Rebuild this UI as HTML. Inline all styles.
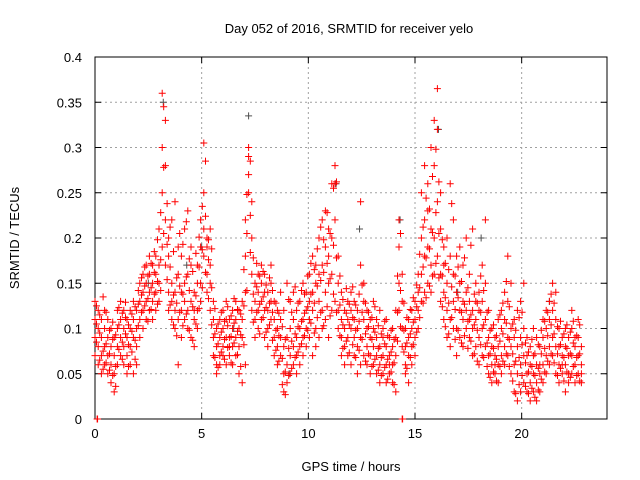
<!DOCTYPE html>
<html><head><meta charset="utf-8"><style>
body{margin:0;background:#fff}
svg{display:block;font-family:"Liberation Sans",sans-serif}
</style></head><body>
<svg id="chart" width="640" height="480">
<g id="grid"></g>
<g id="axes"></g>
<g id="marks"></g>
<text x="349" y="33" text-anchor="middle" font-size="13">Day 052 of 2016, SRMTID for receiver yelo</text>
<text x="351" y="471" text-anchor="middle" font-size="13">GPS time / hours</text>
<text transform="translate(19,238) rotate(-90)" text-anchor="middle" font-size="13">SRMTID / TECUs</text>
</svg>
<script>
const xTicks=[0,5,10,15,20];
const yTicks=[0,0.05,0.1,0.15,0.2,0.25,0.3,0.35,0.4];
const yTickLabels=["0","0.05","0.1","0.15","0.2","0.25","0.3","0.35","0.4"];
const redSeries=[[0.0,.09,.07,.11,.13],[0.15,.06,.08,.10,.12],[0.3,.05,.09,.07,.11],[0.45,.08,.10,.06,.12],[0.6,.07,.09,.05,.11],[0.75,.06,.04,.08,.10],[0.9,.05,.07,.09,.03],[1.05,.08,.10,.06,.12],[1.2,.09,.11,.07,.13],[1.35,.10,.08,.12,.06],[1.5,.09,.11,.07,.05],[1.65,.10,.12,.08,.06],[1.8,.05,.09,.11,.13],[1.95,.06,.10,.12,.08],[2.1,.11,.13,.09,.15],[2.25,.12,.14,.10,.16],[2.4,.13,.15,.11,.17],[2.55,.12,.14,.16,.18],[2.7,.13,.15,.17,.11],[2.85,.14,.16,.18,.12],[3.0,.15,.17,.13,.21],[3.15,.19,.25,.30,.36],[3.3,.22,.28,.33,.17],[3.45,.14,.18,.12,.20],[3.6,.13,.11,.15,.22],[3.75,.10,.12,.14,.24],[3.9,.06,.11,.16,.19],[4.05,.12,.14,.09,.18],[4.2,.11,.13,.15,.21],[4.35,.10,.12,.16,.23],[4.5,.09,.13,.17,.19],[4.65,.11,.14,.08,.12],[4.8,.10,.12,.15,.17],[4.95,.13,.15,.19,.22],[5.1,.18,.25,.305,.21],[5.25,.14,.16,.19,.20],[5.4,.12,.15,.17,.21],[5.55,.07,.09,.11,.13],[5.7,.06,.08,.10,.05],[5.85,.07,.09,.11,.06],[6.0,.08,.10,.12,.07],[6.15,.09,.11,.06,.13],[6.3,.07,.09,.11,.08],[6.45,.08,.10,.12,.06],[6.6,.09,.11,.07,.13],[6.75,.10,.08,.12,.05],[6.9,.11,.09,.13,.04],[7.05,.14,.18,.22,.06],[7.2,.25,.29,.30,.27],[7.35,.12,.16,.20,.24],[7.5,.11,.13,.15,.09],[7.65,.12,.14,.16,.10],[7.8,.13,.15,.17,.11],[7.95,.12,.14,.09,.16],[8.1,.10,.12,.14,.08],[8.25,.11,.13,.15,.17],[8.4,.09,.11,.13,.07],[8.55,.08,.10,.12,.06],[8.7,.07,.09,.11,.14],[8.85,.03,.05,.08,.12],[9.0,.04,.06,.09,.15],[9.15,.05,.07,.10,.13],[9.3,.06,.08,.11,.14],[9.45,.07,.09,.12,.05],[9.6,.08,.10,.13,.06],[9.75,.07,.09,.11,.15],[9.9,.08,.10,.12,.14],[10.05,.09,.11,.13,.16],[10.2,.07,.12,.14,.18],[10.35,.08,.10,.15,.17],[10.5,.09,.13,.16,.20],[10.65,.10,.12,.17,.22],[10.8,.11,.14,.19,.23],[10.95,.09,.15,.18,.21],[11.1,.12,.16,.20,.26],[11.25,.13,.22,.26,.28],[11.4,.10,.12,.15,.18],[11.55,.07,.09,.11,.14],[11.7,.08,.10,.12,.06],[11.85,.09,.11,.13,.07],[12.0,.06,.10,.12,.14],[12.15,.07,.09,.11,.13],[12.3,.08,.10,.12,.05],[12.45,.06,.09,.17,.24],[12.6,.07,.11,.13,.15],[12.75,.06,.08,.10,.12],[12.9,.07,.09,.11,.05],[13.05,.06,.08,.10,.13],[13.2,.05,.07,.09,.11],[13.35,.04,.06,.08,.12],[13.5,.05,.07,.09,.10],[13.65,.06,.08,.04,.11],[13.8,.05,.07,.09,.06],[13.95,.04,.06,.08,.10],[14.1,.07,.09,.03,.12],[14.25,.12,.15,.19,.22],[14.4,.08,.10,.13,.16],[14.55,.06,.08,.10,.05],[14.7,.07,.09,.11,.04],[14.85,.08,.10,.12,.06],[15.0,.09,.11,.13,.07],[15.15,.10,.12,.14,.16],[15.3,.13,.16,.20,.25],[15.45,.14,.18,.22,.28],[15.6,.15,.19,.23,.26],[15.75,.14,.17,.21,.30],[15.9,.16,.20,.28,.33],[16.05,.18,.24,.32,.365],[16.2,.13,.16,.21,.25],[16.35,.11,.14,.17,.19],[16.5,.09,.12,.15,.20],[16.65,.08,.11,.18,.26],[16.8,.10,.13,.16,.22],[16.95,.07,.10,.14,.18],[17.1,.09,.12,.15,.19],[17.25,.08,.11,.13,.17],[17.4,.10,.12,.14,.20],[17.55,.09,.11,.13,.16],[17.7,.07,.10,.12,.21],[17.85,.08,.11,.13,.15],[18.0,.06,.09,.12,.14],[18.15,.07,.10,.13,.17],[18.3,.08,.11,.15,.22],[18.45,.05,.07,.09,.12],[18.6,.04,.06,.08,.10],[18.75,.05,.07,.09,.06],[18.9,.04,.06,.08,.11],[19.05,.05,.07,.10,.12],[19.2,.06,.08,.11,.14],[19.35,.07,.09,.13,.18],[19.5,.05,.08,.10,.15],[19.65,.03,.06,.09,.11],[19.8,.02,.05,.08,.12],[19.95,.03,.06,.09,.13],[20.1,.04,.07,.10,.15],[20.25,.03,.05,.07,.09],[20.4,.02,.04,.06,.08],[20.55,.03,.05,.07,.10],[20.7,.02,.04,.06,.09],[20.85,.03,.05,.08,.06],[21.0,.04,.06,.09,.11],[21.15,.05,.07,.10,.12],[21.3,.06,.08,.11,.13],[21.45,.07,.09,.12,.15],[21.6,.05,.08,.11,.14],[21.75,.04,.06,.08,.10],[21.9,.05,.07,.09,.06],[22.05,.03,.06,.08,.10],[22.2,.04,.07,.09,.05],[22.35,.05,.07,.10,.12],[22.5,.04,.06,.08,.09],[22.65,.05,.07,.09,.11],[22.8,.04,.06,.08,.05]];
const redSeriesB=[[0.07,.085,.105,.125],[0.22,.065,.095,.115],[0.38,.055,.075,.135],[0.52,.083,.062,.118],[0.68,.072,.098,.054],[0.83,.048,.088,.107],[0.97,.058,.036,.093],[1.12,.077,.104,.123],[1.28,.085,.066,.117],[1.43,.094,.112,.129],[1.57,.082,.058,.104],[1.73,.097,.116,.074],[1.88,.066,.087,.124],[2.03,.103,.127,.142],[2.18,.118,.137,.156],[2.33,.125,.147,.168],[2.48,.133,.158,.108],[2.63,.121,.145,.172],[2.78,.138,.162,.185],[2.93,.127,.152,.198],[3.08,.142,.176,.228],[3.22,.205,.278,.345],[3.38,.154,.193,.238],[3.52,.126,.168,.212],[3.68,.104,.137,.185],[3.83,.092,.128,.156],[3.97,.118,.147,.205],[4.12,.103,.138,.193],[4.28,.116,.157,.218],[4.42,.098,.142,.177],[4.58,.087,.124,.163],[4.73,.105,.136,.183],[4.88,.122,.168,.201],[5.03,.145,.187,.235],[5.18,.162,.224,.285],[5.32,.133,.176,.198],[5.47,.104,.145,.188],[5.62,.068,.094,.122],[5.77,.057,.083,.105],[5.92,.074,.096,.118],[6.07,.066,.088,.108],[6.22,.079,.103,.124],[6.38,.062,.091,.114],[6.52,.084,.106,.133],[6.68,.071,.097,.121],[6.83,.058,.093,.116],[6.98,.082,.125,.165],[7.12,.142,.205,.248],[7.28,.184,.225,.285],[7.42,.107,.138,.178],[7.58,.118,.146,.172],[7.72,.094,.127,.158],[7.88,.112,.135,.163],[8.02,.096,.123,.148],[8.18,.104,.128,.156],[8.32,.087,.118,.142],[8.48,.076,.098,.128],[8.62,.064,.092,.117],[8.78,.038,.067,.102],[8.92,.027,.052,.088],[9.08,.048,.078,.132],[9.22,.056,.086,.118],[9.38,.068,.094,.146],[9.52,.074,.102,.128],[9.68,.083,.108,.142],[9.82,.092,.117,.138],[9.97,.098,.124,.158],[10.12,.106,.138,.172],[10.28,.095,.128,.165],[10.42,.112,.147,.188],[10.58,.118,.153,.212],[10.72,.103,.162,.198],[10.88,.124,.172,.228],[11.02,.114,.155,.205],[11.18,.138,.192,.255],[11.32,.118,.178,.262],[11.48,.092,.126,.158],[11.62,.078,.104,.132],[11.78,.086,.117,.144],[11.92,.073,.104,.127],[12.08,.082,.112,.146],[12.22,.068,.098,.126],[12.38,.076,.108,.138],[12.52,.088,.118,.148],[12.68,.064,.094,.128],[12.82,.072,.102,.118],[12.98,.058,.088,.112],[13.12,.066,.096,.124],[13.28,.054,.078,.103],[13.42,.048,.068,.094],[13.58,.057,.083,.108],[13.72,.044,.066,.092],[13.88,.052,.074,.098],[14.02,.038,.062,.088],[14.18,.086,.118,.158],[14.32,.102,.142,.205],[14.48,.074,.098,.128],[14.62,.056,.084,.112],[14.78,.068,.094,.121],[14.92,.082,.107,.134],[15.08,.096,.124,.148],[15.22,.112,.145,.182],[15.38,.128,.168,.212],[15.52,.134,.178,.244],[15.68,.147,.188,.232],[15.82,.158,.206,.268],[15.98,.172,.228,.298],[16.12,.156,.205,.262],[16.28,.124,.158,.198],[16.42,.102,.134,.172],[16.58,.094,.128,.165],[16.72,.112,.146,.238],[16.88,.088,.121,.158],[17.02,.098,.134,.168],[17.18,.084,.118,.152],[17.32,.092,.127,.178],[17.48,.078,.108,.145],[17.62,.086,.115,.192],[17.78,.072,.104,.138],[17.92,.064,.098,.128],[18.08,.082,.118,.158],[18.22,.068,.104,.142],[18.38,.058,.084,.118],[18.52,.046,.072,.098],[18.68,.052,.078,.104],[18.82,.042,.066,.092],[18.98,.058,.086,.115],[19.12,.064,.094,.128],[19.28,.072,.106,.152],[19.42,.058,.088,.124],[19.58,.042,.072,.105],[19.72,.028,.064,.098],[19.88,.038,.068,.112],[20.02,.048,.082,.118],[20.18,.036,.062,.084],[20.32,.028,.052,.074],[20.48,.034,.058,.088],[20.62,.024,.048,.072],[20.78,.032,.056,.082],[20.92,.044,.072,.098],[21.08,.052,.078,.108],[21.22,.064,.092,.118],[21.38,.072,.104,.138],[21.52,.062,.094,.128],[21.68,.048,.072,.102],[21.82,.056,.082,.108],[21.98,.042,.068,.094],[22.12,.052,.078,.104],[22.28,.046,.072,.096],[22.42,.058,.084,.108],[22.58,.048,.068,.092],[22.72,.042,.072,.104]];
const zeroPoints=[[0.1,0],[0.12,0],[14.4,0],[14.42,0]];
const graySeries=[[7.2,.335],[3.2,.35],[16.1,.32],[14.3,.22],[11.3,.26],[5.0,.19],[9.1,.05],[2.5,.15],[17.0,.14],[18.1,.2],[21.3,.13],[4.3,.17],[6.5,.1],[12.4,.21]];
const X0=95,X1=607,Y0=419,Y1=57,XMAX=24,YMAX=0.4;
const xs=t=>X0+(X1-X0)*t/XMAX, ys=v=>Y0-(Y0-Y1)*v/YMAX;
const NS='http://www.w3.org/2000/svg';
const grid=document.getElementById('grid'),axes=document.getElementById('axes'),marks=document.getElementById('marks');
function mk(tag,attrs,parent){const e=document.createElementNS(NS,tag);for(const k in attrs)e.setAttribute(k,attrs[k]);parent.appendChild(e);return e;}
xTicks.forEach(t=>{
 const x=xs(t);
 if(t>0){const g=mk('line',{x1:x,x2:x,y1:Y1,y2:Y0,stroke:'#a0a0a0','stroke-dasharray':'2,3'},grid);
 
 }
 mk('line',{x1:x,x2:x,y1:Y0,y2:Y0-6,stroke:'#000'},axes);
 mk('line',{x1:x,x2:x,y1:Y1,y2:Y1+6,stroke:'#000'},axes);
 const l=mk('text',{x:x,y:Y0+19,'text-anchor':'middle','font-size':13},axes);
 l.textContent=String(t);
 
 
});
yTicks.forEach((v,i)=>{
 const y=ys(v);
 if(i>0&&i<yTicks.length-1){const g=mk('line',{x1:X0,x2:X1,y1:y,y2:y,stroke:'#a0a0a0','stroke-dasharray':'2,3'},grid);
 
 }
 mk('line',{x1:X0,x2:X0+6,y1:y,y2:y,stroke:'#000'},axes);
 mk('line',{x1:X1,x2:X1-6,y1:y,y2:y,stroke:'#000'},axes);
 const l=mk('text',{x:X0-13,y:y+5,'text-anchor':'end','font-size':13},axes);
 l.textContent=yTickLabels[i];
 
 
});
const box=mk('rect',{x:X0,y:Y1,width:X1-X0,height:Y0-Y1,fill:'none',stroke:'#000'},axes);


function plus(t,v,color){
 const x=xs(t),y=ys(v);
 const p=mk('path',{d:`M${x-3.5},${y}h7M${x},${y-3.5}v7`,stroke:color,'stroke-width':1,fill:'none'},marks);
 
 
}
graySeries.forEach(d=>plus(d[0],d[1],'#505050'));
redSeries.forEach(r=>{for(let i=1;i<r.length;i++)plus(r[0],r[i],'#ff0000');});
redSeriesB.forEach(r=>{for(let i=1;i<r.length;i++)plus(r[0],r[i],'#ff0000');});
zeroPoints.forEach(d=>plus(d[0],d[1],'#ff0000'));
</script>
</body></html>
